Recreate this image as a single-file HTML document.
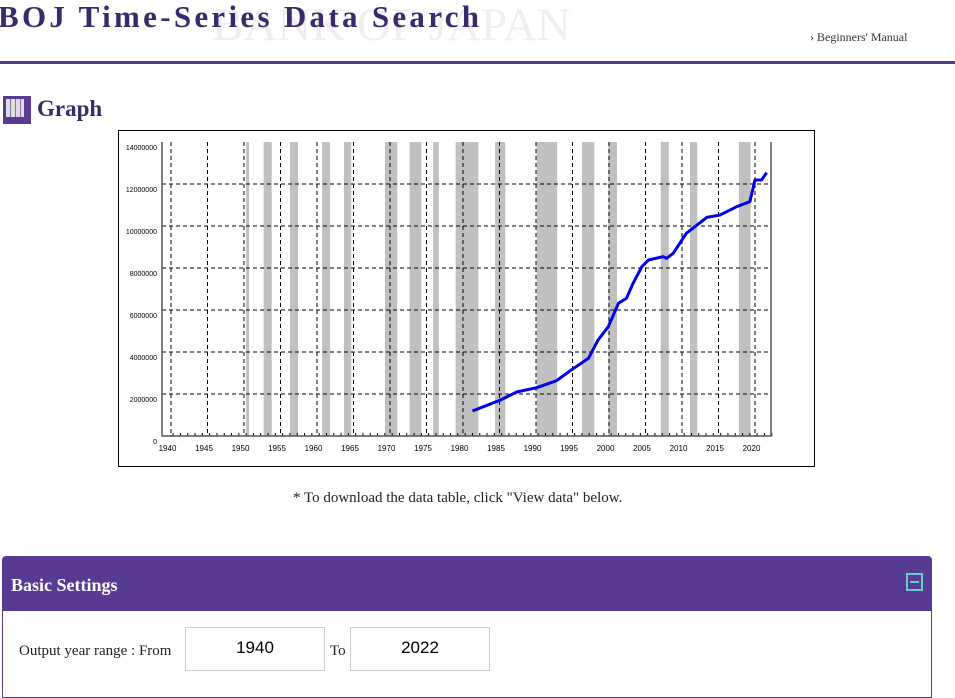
<!DOCTYPE html>
<html><head><meta charset="utf-8">
<style>
body{margin:0;width:955px;height:668px;overflow:hidden;background:#fff;font-family:"Liberation Serif",serif;position:relative}
.abs{position:absolute}
</style></head><body>
<div class="abs" style="left:212px;top:-2px;font-size:47px;color:#eeeef2;white-space:nowrap">BANK OF JAPAN</div>
<div class="abs" style="left:-2px;top:-1px;font-size:31px;font-weight:bold;color:#3b2a6b;letter-spacing:3.3px;white-space:nowrap">BOJ Time-Series Data Search</div>
<div class="abs" style="left:810px;top:30px;font-size:12px;color:#333;white-space:nowrap">› Beginners' Manual</div>
<div class="abs" style="left:0;top:61px;width:955px;height:3px;background:#583a92"></div>
<div class="abs" style="left:3px;top:96px;width:28px;height:28px;background:#583a92"><div style="position:absolute;left:3px;top:3px;width:18px;height:18px;background:repeating-linear-gradient(90deg,#ddd 0 4px,#8870b0 4px 5px)"></div></div>
<div class="abs" style="left:37px;top:96px;font-size:23px;font-weight:bold;color:#3b2a6b">Graph</div>
<svg class="abs" style="left:118px;top:130px" width="697" height="337" id="chart">
<rect x="0.5" y="0.5" width="696" height="336" fill="#fff" stroke="#000"/>
</svg>
<div class="abs" style="left:293px;top:490px;font-size:15px;color:#222;white-space:nowrap">* To download the data table, click "View data" below.</div>
<div class="abs" style="left:2px;top:556px;width:928px;height:140px;border:1px solid #583a92;border-radius:4px 4px 0 0;background:#fff">
 <div style="height:54px;background:#583a92;color:#fff;font-weight:bold;font-size:18px;line-height:56px;padding-left:8px">Basic Settings</div>
 <div style="position:absolute;left:903px;top:16px;width:17px;height:18px;border:2px solid #6cc;box-sizing:border-box"><div style="position:absolute;left:2px;top:6px;width:9px;height:2px;background:#6cc"></div></div>
 <div style="position:absolute;left:16px;top:86px;font-size:15px;color:#222;white-space:nowrap">Output year range : From</div>
 <div style="position:absolute;left:182px;top:70px;width:138px;height:42px;border:1px solid #ccc;font-family:'Liberation Sans',sans-serif;font-size:17px;text-align:center;line-height:40px">1940</div>
 <div style="position:absolute;left:327px;top:86px;font-size:15px;color:#222">To</div>
 <div style="position:absolute;left:347px;top:70px;width:138px;height:42px;border:1px solid #ccc;font-family:'Liberation Sans',sans-serif;font-size:17px;text-align:center;line-height:40px">2022</div>
</div>
<script>
const recessions=[[1950.5,1950.9],[1952.9,1954.0],[1956.5,1957.6],[1960.9,1962.0],[1963.9,1964.9],[1969.5,1971.2],[1972.9,1974.5],[1976.1,1976.9],[1979.2,1982.3],[1984.6,1986.0],[1990.3,1993.1],[1996.5,1998.2],[2000.1,2001.3],[2007.3,2008.4],[2011.3,2012.3],[2018.0,2019.6]];
const years=[1981.5,1985.3,1987.6,1990.3,1993.0,1994.9,1997.4,1998.7,2000.1,2001.5,2002.6,2003.5,2004.7,2005.6,2007.6,2008.1,2009.0,2010.8,2013.6,2015.4,2017.7,2019.5,2020.2,2021.1,2021.8];
const values=[1190000,1710000,2100000,2300000,2630000,3110000,3700000,4570000,5200000,6320000,6560000,7270000,8060000,8380000,8540000,8460000,8700000,9650000,10410000,10520000,10920000,11160000,12190000,12190000,12540000];
const yTicks=[0,2000000,4000000,6000000,8000000,10000000,12000000,14000000];
const xTicks=[1940,1945,1950,1955,1960,1965,1970,1975,1980,1985,1990,1995,2000,2005,2010,2015,2020];
const OX=118,OY=130,L=162,R=771,T=142,B=436;
const xs=y=>169.5+(y-1940)*7.3-OX;
const ys=v=>B-v/14000000*(B-T)-OY;
const svg=document.getElementById('chart'),NS='http://www.w3.org/2000/svg';
function mk(t,a){const e=document.createElementNS(NS,t);for(const k in a)e.setAttribute(k,a[k]);svg.appendChild(e);return e;}
recessions.forEach(r=>{const e=mk('rect',{x:xs(r[0]),y:T-OY,width:xs(r[1])-xs(r[0]),height:B-T,fill:'#c0c0c0'});

});
xTicks.forEach(t=>{const x=xs(t)+1.5;const g=mk('line',{x1:x,x2:x,y1:T-OY,y2:B-OY,stroke:'#000','stroke-dasharray':'4 3'});


const tx=mk('text',{x:xs(t)-2,y:B-OY+15,'font-size':8,'font-family':'Liberation Sans, sans-serif','text-anchor':'middle',fill:'#000'});tx.textContent=t;

});
for(let y=1940;y<=2022;y++){const x=xs(y+0.5);const m=mk('line',{x1:x,x2:x,y1:B-OY-3,y2:B-OY,stroke:'#000'});

}
yTicks.forEach(v=>{const y=ys(v);if(v>0&&v<14000000){const g=mk('line',{x1:L-OX,x2:R-OX,y1:y,y2:y,stroke:'#000','stroke-dasharray':'4 3'});

}
const tx=mk('text',{x:L-OX-5,y:y+8,'font-size':7,'font-family':'Liberation Sans, sans-serif','text-anchor':'end',fill:'#000'});tx.textContent=v;

});
const ax=mk('polyline',{points:`${L-OX},${T-OY} ${L-OX},${B-OY} ${R-OX},${B-OY} ${R-OX},${T-OY}`,fill:'none',stroke:'#555','stroke-width':1.5});


const ln=mk('polyline',{points:years.map((y,i)=>xs(y)+','+ys(values[i])).join(' '),fill:'none',stroke:'#0000ee','stroke-width':3,'stroke-linejoin':'round'});


</script>
</body></html>
